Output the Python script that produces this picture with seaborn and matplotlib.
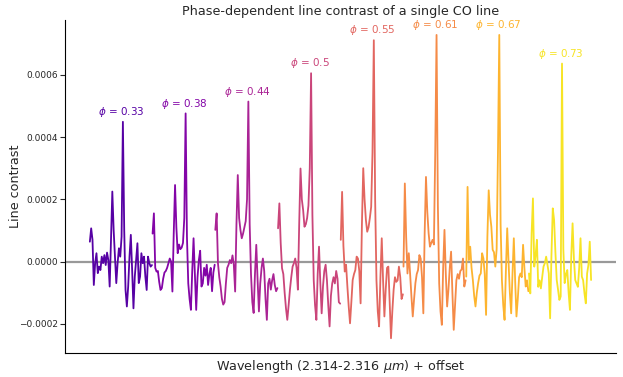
import numpy as np
import pandas as pd
import matplotlib
matplotlib.use("Agg")
import matplotlib.pyplot as plt
from matplotlib.ticker import FuncFormatter, FixedLocator
import seaborn as sns

# ---- data (line contrast in units of 1e-4) ----
phases = [0.33, 0.38, 0.44, 0.5, 0.55, 0.61, 0.67, 0.73]
phase_labels = ["0.33", "0.38", "0.44", "0.5", "0.55", "0.61", "0.67", "0.73"]
unit = 1e-4
wl_start, wl_end = 2.314, 2.316
offset_step = 0.00202

c033 = [0.64, 1.07, 0.70, -0.75, -0.05, 0.27, -0.37, -0.16, -0.27, 0.16, -0.05, 0.21,
        -0.11, 0.29, 0.05, -0.80, 0.70, 2.25, 1.02, 0.16, -0.69, -0.05, 0.43, 0.16,
        0.80, 4.49, 1.02, -0.91, -1.44, -0.80, 0.16, 0.86, -0.27, -1.50, -0.48, 0.05,
        0.59, -0.69, -0.48, 0.27, -0.05, 0.16, -0.48, -0.91, 0.16, -0.05, -0.16, -0.11]
c038 = [0.90, 1.55, -0.20, -0.32, -0.30, -0.65, -0.91, -0.85, -0.55, -0.35, -0.30, -0.20,
        -0.05, 0.10, 0.00, -0.96, 0.90, 2.46, 1.10, 0.27, 0.55, 0.40, 0.45, 0.60,
        1.40, 4.76, 0.80, -0.70, -1.20, -1.55, -0.30, 0.75, -0.40, -1.55, -0.50, 0.05,
        0.35, -0.80, -0.70, -0.20, -0.45, -0.10, -0.75, -0.40, -0.20, -0.95, -0.35, -0.10]
c044 = [1.02, 1.55, -0.05, -0.50, -0.80, -1.20, -1.38, -1.30, -0.70, -0.20, -0.10, 0.05,
        -0.05, 0.20, -0.10, -0.96, 1.20, 2.78, 1.40, 1.02, 0.75, 0.90, 1.10, 1.30,
        2.00, 5.14, 1.20, -0.40, -1.30, -1.65, -0.40, 0.54, -0.60, -1.60, -0.70, -0.20,
        0.10, -0.30, -1.20, -1.87, -0.70, -0.55, -0.90, -0.60, -0.40, -0.75, -0.95, -0.85]
c050 = [1.07, 1.87, 0.60, -0.21, -0.40, -1.00, -1.50, -1.87, -1.40, -0.90, -0.50, -0.16,
        -0.05, 0.10, -0.20, -0.90, 1.20, 2.99, 2.00, 1.65, 1.12, 1.20, 1.40, 1.80,
        3.00, 6.05, 1.50, -0.60, -1.40, -1.87, -0.40, 0.48, -0.70, -1.66, -0.80, -0.30,
        -0.10, -0.60, -1.40, -2.08, -1.10, -0.70, -0.50, -0.70, -0.30, -0.55, -1.30, -1.35]
c055 = [0.70, 2.24, 0.50, -0.32, -0.10, -0.80, -1.44, -1.98, -1.30, -0.59, -0.40, -0.27,
        0.16, 0.10, -0.30, -1.34, 1.20, 3.00, 2.00, 1.34, 0.96, 1.10, 1.40, 1.76,
        3.50, 7.11, 2.00, -0.60, -1.60, -2.08, -0.50, 0.75, -0.60, -1.76, -0.90, -0.20,
        -0.16, -1.30, -2.46, -1.60, -0.90, -0.50, -0.65, -0.60, -0.16, -0.50, -1.20, -1.05]
c061 = [-0.16, 2.51, 0.80, -0.38, 0.27, -0.40, -1.12, -1.76, -1.20, -0.69, -0.40, -0.27,
        0.21, 0.10, -0.50, -1.66, 0.90, 2.72, 1.60, 0.91, 0.48, 0.60, 0.70, 0.55,
        3.50, 7.28, 1.80, -0.70, -1.60, -2.03, -0.20, 1.02, -0.40, -1.44, -0.90, -0.20,
        0.32, -1.00, -2.19, -1.40, -0.60, -0.40, -0.55, -0.30, -0.25, 0.10, -0.80, -0.60]
c067 = [-0.48, 2.40, 0.05, 0.48, -0.20, -0.59, -1.10, -1.44, -1.00, -0.69, -0.45, -0.38,
        0.27, 0.10, -0.40, -1.71, 0.80, 2.29, 1.50, 1.12, 0.38, 0.30, -0.16, 0.40,
        3.50, 7.28, 1.20, -0.60, -1.40, -1.87, -0.30, 1.07, 0.00, -1.00, -1.66, -0.40,
        0.75, -0.60, -1.76, -1.20, -0.50, -0.38, -0.50, 0.54, -0.20, -0.80, -0.60, -0.95]
c073 = [-0.38, -1.02, 0.91, 2.03, -0.16, 0.20, 0.70, -0.81, -0.60, -0.86, -0.50, -0.16,
        -0.05, 0.16, -0.10, -0.38, -1.82, 0.20, 1.71, 1.34, 0.30, -0.59, -0.90, -1.23,
        -1.12, 6.36, 0.40, -0.69, -0.40, -0.27, -1.00, -1.55, 0.20, 1.23, 0.10, -0.59,
        -0.70, -0.81, -0.20, 0.75, -0.48, -0.60, -1.02, -1.34, -0.38, -0.10, 0.64, -0.59]

series = [c033, c038, c044, c050, c055, c061, c067, c073]
yticks = [-0.0002, 0.0, 0.0002, 0.0004, 0.0006]

# ---- build long-form table ----
rows = []
for k, (ph, vals) in enumerate(zip(phase_labels, series)):
    wl = np.linspace(wl_start, wl_end, len(vals)) + k * offset_step
    for w, v in zip(wl, vals):
        rows.append({"wl": w, "contrast": v * unit, "phase": ph})
df = pd.DataFrame(rows)

sns.set_style("ticks")
plt.rcParams["font.family"] = ["DejaVu Sans"]

colors = [plt.cm.plasma(t) for t in np.linspace(0.15, 0.95, len(phases))]

fig, ax = plt.subplots(figsize=(6.23, 3.77), dpi=100)
fig.subplots_adjust(left=0.104, right=0.989, bottom=0.064, top=0.947)

ax.axhline(0, color="#999999", lw=1.6, zorder=0)
sns.lineplot(data=df, x="wl", y="contrast", hue="phase", palette=colors,
             legend=False, lw=1.3, ax=ax, estimator=None, sort=False)

for k, (ph, vals) in enumerate(zip(phase_labels, series)):
    sub = df[df["phase"] == ph]
    i = sub["contrast"].idxmax()
    ax.annotate(r"$\phi$ = " + ph, (sub.loc[i, "wl"], sub.loc[i, "contrast"]),
                xytext=(-1, 2), textcoords="offset points", ha="center", va="bottom",
                color=colors[k], fontsize=7.5)

ax.set_ylim(-0.000293, 0.000776)
ax.yaxis.set_major_locator(FixedLocator(yticks))
ax.yaxis.set_major_formatter(FuncFormatter(lambda v, p: f"{v:.4f}".replace("-", "\u2212")))
ax.set_xticks([])
ax.tick_params(axis="y", labelsize=6.5, length=3.5, width=0.8, pad=1.5)
ax.set_ylabel("Line contrast", fontsize=9.2)
ax.yaxis.set_label_coords(-0.078, 0.5)
ax.set_xlabel(r"Wavelength (2.314-2.316 $\mu m$) + offset", fontsize=9.2, labelpad=4)
ax.set_title("Phase-dependent line contrast of a single CO line", fontsize=9.2, pad=3.5)
sns.despine(ax=ax)
for s in ["left", "bottom"]:
    ax.spines[s].set_color("black")
    ax.spines[s].set_linewidth(0.8)

fig.savefig("out.png", dpi=100)
